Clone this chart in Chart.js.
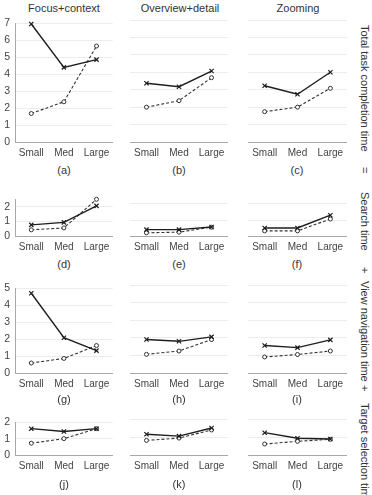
<!DOCTYPE html>
<html><head><meta charset="utf-8">
<script src="https://cdn.jsdelivr.net/npm/chart.js@4.4.1/dist/chart.umd.min.js"></script>
<style>
body{margin:0;width:372px;height:495px;background:#fff;position:relative;overflow:hidden;font-family:"Liberation Sans",Arial,sans-serif;color:#333}
canvas{position:absolute}
.t{position:absolute;font-size:11px;transform:translate(-50%,-50%);white-space:nowrap;line-height:13px}
.v{position:absolute;writing-mode:vertical-rl;font-size:11px;white-space:nowrap;line-height:14px;left:358px}
</style></head>
<body>
<script>
// ---- data ----
const categories = ["Small", "Med", "Large"];
const techniques = ["Focus+context", "Overview+detail", "Zooming"];
const measures = ["Total task completion time", "Search time", "View navigation time", "Target selection time"];
const panelLabels = [["(a)","(b)","(c)"],["(d)","(e)","(f)"],["(g)","(h)","(i)"],["(j)","(k)","(l)"]];
// solid line with x markers / dashed line with o markers, per technique
const totalCross   = [[6.96, 4.40, 4.86], [3.37, 3.17, 4.07], [3.23, 2.74, 4.00]];
const totalCircle  = [[1.68, 2.37, 5.66], [2.00, 2.37, 3.69], [1.74, 2.00, 3.08]];
const searchCross  = [[0.76, 0.93, 2.05], [0.40, 0.40, 0.56], [0.50, 0.50, 1.30]];
const searchCircle = [[0.42, 0.55, 2.50], [0.20, 0.24, 0.55], [0.32, 0.32, 1.06]];
const navCross     = [[4.71, 2.08, 1.32], [1.90, 1.80, 2.05], [1.56, 1.44, 1.88]];
const navCircle    = [[0.59, 0.86, 1.62], [1.06, 1.25, 1.90], [0.91, 1.05, 1.25]];
const targetCross  = [[1.61, 1.44, 1.61], [1.15, 1.05, 1.50], [1.24, 0.93, 0.89]];
const targetCircle = [[0.72, 1.00, 1.61], [0.81, 0.94, 1.39], [0.61, 0.76, 0.87]];
const yMax = [7, 2.5, 5, 2];
const yTicks = [[0,1,2,3,4,5,6,7], [0,1,2], [0,1,2,3,4,5], [0,1,2]];

// ---- layout ----
const rows = [
  {top: 20, bottom: 142, labelY: 170},
  {top: 196, bottom: 236, labelY: 264},
  {top: 285, bottom: 373, labelY: 399},
  {top: 419, bottom: 455, labelY: 484}
];
const cols = [{l: 15, r: 118}, {l: 125, r: 233}, {l: 243, r: 352}];
const crossData = [totalCross, searchCross, navCross, targetCross];
const circleData = [totalCircle, searchCircle, navCircle, targetCircle];
const PADTOP = 8, XH = 20;

function addText(cls, txt, x, y, extra) {
  const d = document.createElement('div');
  d.className = cls; d.textContent = txt;
  if (x !== null) d.style.left = x + 'px';
  d.style.top = y + 'px';
  if (extra) Object.assign(d.style, extra);
  document.body.appendChild(d);
}

techniques.forEach((t, c) => addText('t', t, [64, 180, 298][c], 8));

rows.forEach((row, r) => {
  cols.forEach((col, c) => {
    const left = c === 0 ? 0 : col.l;
    const yW = c === 0 ? col.l : 0;
    const w = col.r - left;
    const h = PADTOP + (row.bottom - row.top) + XH;
    const cv = document.createElement('canvas');
    cv.width = w; cv.height = h;
    cv.style.left = left + 'px'; cv.style.top = (row.top - PADTOP) + 'px';
    cv.style.width = w + 'px'; cv.style.height = h + 'px';
    document.body.appendChild(cv);
    new Chart(cv, {
      type: 'line',
      data: {
        labels: categories,
        datasets: [
          {data: crossData[r][c], borderColor: '#1e1e1e', borderWidth: 1.4, pointStyle: 'crossRot',
           pointRadius: 3, pointBorderColor: '#1e1e1e', pointBorderWidth: 1.2, fill: false, clip: false, tension: 0},
          {data: circleData[r][c], borderColor: '#333', borderWidth: 1.1, borderDash: [3, 2], pointStyle: 'circle',
           pointRadius: 2, pointBackgroundColor: '#fff', pointBorderColor: '#333', pointBorderWidth: 1, fill: false, clip: false, tension: 0}
        ]
      },
      options: {
        responsive: false, animation: false, devicePixelRatio: 1,
        layout: {padding: {top: PADTOP, left: 0, right: 0, bottom: 0}},
        plugins: {legend: {display: false}, tooltip: {enabled: false}},
        scales: {
          x: {
            offset: true,
            grid: {display: false, drawTicks: false},
            border: {display: true, color: '#a8a8a8', width: 1},
            ticks: {color: '#444', font: {family: 'Liberation Sans', size: 10}, padding: 5, maxRotation: 0, autoSkip: false},
            afterFit: s => { s.height = XH; }
          },
          y: {
            min: 0, max: yMax[r],
            ticks: {display: c === 0, stepSize: 1, autoSkip: false, color: '#444', font: {family: 'Liberation Sans', size: 10.5}, padding: 5},
            afterBuildTicks: s => { s.ticks = yTicks[r].map(v => ({value: v})); },
            grid: {color: '#ececec', lineWidth: 1, drawTicks: false},
            border: {display: c === 0, color: '#a8a8a8', width: 1},
            afterFit: s => { s.width = yW; }
          }
        }
      }
    });
    addText('t', panelLabels[r][c], [64, 179, 297][c], row.labelY);
  });
});

// right-side vertical caption
addText('v', measures[0], null, 25);
addText('v', '=', null, 167);
addText('v', measures[1], null, 192);
addText('v', '+', null, 267);
addText('v', measures[2], null, 281);
addText('v', '+', null, 385);
addText('v', measures[3], null, 403);
</script>
</body></html>
